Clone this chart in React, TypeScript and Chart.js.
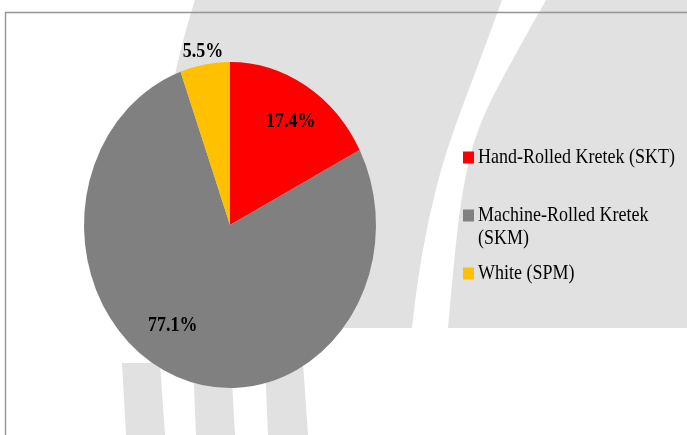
import React, { useEffect, useRef } from "react";
import { Chart, registerables } from "chart.js";

Chart.register(...registerables);

// ---- data ----
const categories = ["Hand-Rolled Kretek (SKT)", "Machine-Rolled Kretek (SKM)", "White (SPM)"];
const shares = [17.4, 77.1, 5.5];
const valueLabels = ["17.4%", "77.1%", "5.5%"];
const sliceColors = ["#ff0000", "#808080", "#ffc000"];

// ---- styling ----
const W = 687;
const H = 435;
const SY = 163 / 146; // vertical stretch of the whole reference picture
const labelRadius = [0.76, 0.73, 1.08];
const labelAngleFrac = [0.53, 0.54, 0.5];
const WM = "#e1e1e1";

const gapLeft: [number, number][] = [
  [502, 0], [480, 60], [446, 150], [428, 220], [416, 290], [412, 328],
];
const gapRight: [number, number][] = [
  [546, 0], [512, 60], [478, 125], [463, 185], [455, 250], [448, 328],
];
const bands: [number, number][][] = [
  [[122, 363], [160, 363], [165, 435], [126, 435]],
  [[193, 363], [231, 363], [235, 435], [196, 435]],
  [[265, 363], [303, 363], [308, 435], [268, 435]],
];

function smoothPath(ctx: CanvasRenderingContext2D, pts: [number, number][], start: boolean) {
  if (start) ctx.moveTo(pts[0][0], pts[0][1]);
  else ctx.lineTo(pts[0][0], pts[0][1]);
  for (let i = 1; i < pts.length - 1; i++) {
    const mx = (pts[i][0] + pts[i + 1][0]) / 2;
    const my = (pts[i][1] + pts[i + 1][1]) / 2;
    ctx.quadraticCurveTo(pts[i][0], pts[i][1], mx, my);
  }
  const last = pts[pts.length - 1];
  ctx.lineTo(last[0], last[1]);
}

function stretchedText(ctx: CanvasRenderingContext2D, text: string, x: number, y: number) {
  ctx.save();
  ctx.translate(x, y);
  ctx.scale(1, SY);
  ctx.fillText(text, 0, 0);
  ctx.restore();
}

const backgroundPlugin = {
  id: "bgWatermark",
  beforeDraw(chart: any) {
    const ctx = chart.ctx as CanvasRenderingContext2D;
    ctx.save();
    ctx.fillStyle = "#ffffff";
    ctx.fillRect(0, 0, W, H);
    ctx.fillStyle = WM;
    // shape A
    ctx.beginPath();
    ctx.moveTo(195, 0);
    ctx.quadraticCurveTo(150, 140, 150, 328);
    smoothPath(ctx, [...gapLeft].reverse(), false);
    ctx.closePath();
    ctx.fill();
    // shape B
    ctx.beginPath();
    smoothPath(ctx, gapRight, true);
    ctx.lineTo(W, 328);
    ctx.lineTo(W, 0);
    ctx.closePath();
    ctx.fill();
    // bottom bands
    bands.forEach((b) => {
      ctx.beginPath();
      b.forEach(([x, y], i) => (i === 0 ? ctx.moveTo(x, y) : ctx.lineTo(x, y)));
      ctx.closePath();
      ctx.fill();
    });
    // frame
    ctx.strokeStyle = "#959595";
    ctx.lineWidth = 1.4;
    ctx.beginPath();
    ctx.moveTo(W, 12.5);
    ctx.lineTo(5.5, 12.5);
    ctx.lineTo(5.5, H);
    ctx.stroke();
    ctx.restore();
  },
};

const ellipsePlugin = {
  id: "ellipse",
  beforeDatasetsDraw(chart: any) {
    const arc = chart.getDatasetMeta(0).data[0];
    if (!arc) return;
    const ctx = chart.ctx as CanvasRenderingContext2D;
    ctx.save();
    ctx.translate(0, arc.y);
    ctx.scale(1, SY);
    ctx.translate(0, -arc.y);
  },
  afterDatasetsDraw(chart: any) {
    chart.ctx.restore();
  },
};

const labelsPlugin = {
  id: "sliceLabels",
  afterDraw(chart: any) {
    const ctx = chart.ctx as CanvasRenderingContext2D;
    const meta = chart.getDatasetMeta(0);
    ctx.save();
    ctx.font = "bold 18px 'Liberation Serif'";
    ctx.fillStyle = "#000000";
    ctx.textAlign = "center";
    ctx.textBaseline = "middle";
    meta.data.forEach((arc: any, i: number) => {
      const a = arc.startAngle + labelAngleFrac[i] * (arc.endAngle - arc.startAngle);
      const r = arc.outerRadius * labelRadius[i];
      const x = arc.x + Math.cos(a) * r;
      const y = arc.y + Math.sin(a) * r * SY;
      stretchedText(ctx, valueLabels[i], x, y);
    });
    ctx.restore();
  },
};

const legendPlugin = {
  id: "sideLegend",
  afterDraw(chart: any) {
    const ctx = chart.ctx as CanvasRenderingContext2D;
    const labels: string[] = chart.data.labels;
    const colors: string[] = chart.data.datasets[0].backgroundColor;
    const x0 = 463;
    const y0 = 157;
    const step = 58;
    const box = 11;
    const tx = 478;
    const maxW = 205;
    const lh = 23;
    ctx.save();
    ctx.font = "18px 'Liberation Serif'";
    ctx.textAlign = "left";
    ctx.textBaseline = "middle";
    labels.forEach((lab, i) => {
      const y = y0 + i * step;
      ctx.fillStyle = colors[i];
      ctx.fillRect(x0, y - box / 2, box, box + 1);
      ctx.fillStyle = "#000000";
      const words = lab.split(" ");
      const lines: string[] = [];
      let cur = "";
      words.forEach((w) => {
        const t = cur ? cur + " " + w : w;
        if (ctx.measureText(t).width > maxW && cur) {
          lines.push(cur);
          cur = w;
        } else cur = t;
      });
      if (cur) lines.push(cur);
      lines.forEach((ln, j) => stretchedText(ctx, ln, tx, y + 1 + j * lh));
    });
    ctx.restore();
  },
};

export default function App() {
  const ref = useRef<HTMLCanvasElement | null>(null);
  useEffect(() => {
    if (!ref.current) return;
    const chart = new Chart(ref.current, {
      type: "pie",
      data: {
        labels: categories,
        datasets: [
          {
            data: shares,
            backgroundColor: sliceColors,
            borderWidth: 0,
            clip: false as any,
          },
        ],
      },
      options: {
        responsive: false,
        animation: false,
        events: [],
        layout: { padding: { left: 84, right: 311, top: 79, bottom: 64 } },
        plugins: {
          legend: { display: false },
          tooltip: { enabled: false },
          title: { display: false },
        },
      },
      plugins: [backgroundPlugin, ellipsePlugin, labelsPlugin, legendPlugin],
    });
    return () => chart.destroy();
  }, []);
  return (
    <div style={{ position: "fixed", left: 0, top: 0, width: W, height: H }}>
      <canvas ref={ref} width={W} height={H} style={{ width: W, height: H, display: "block" }} />
    </div>
  );
}
